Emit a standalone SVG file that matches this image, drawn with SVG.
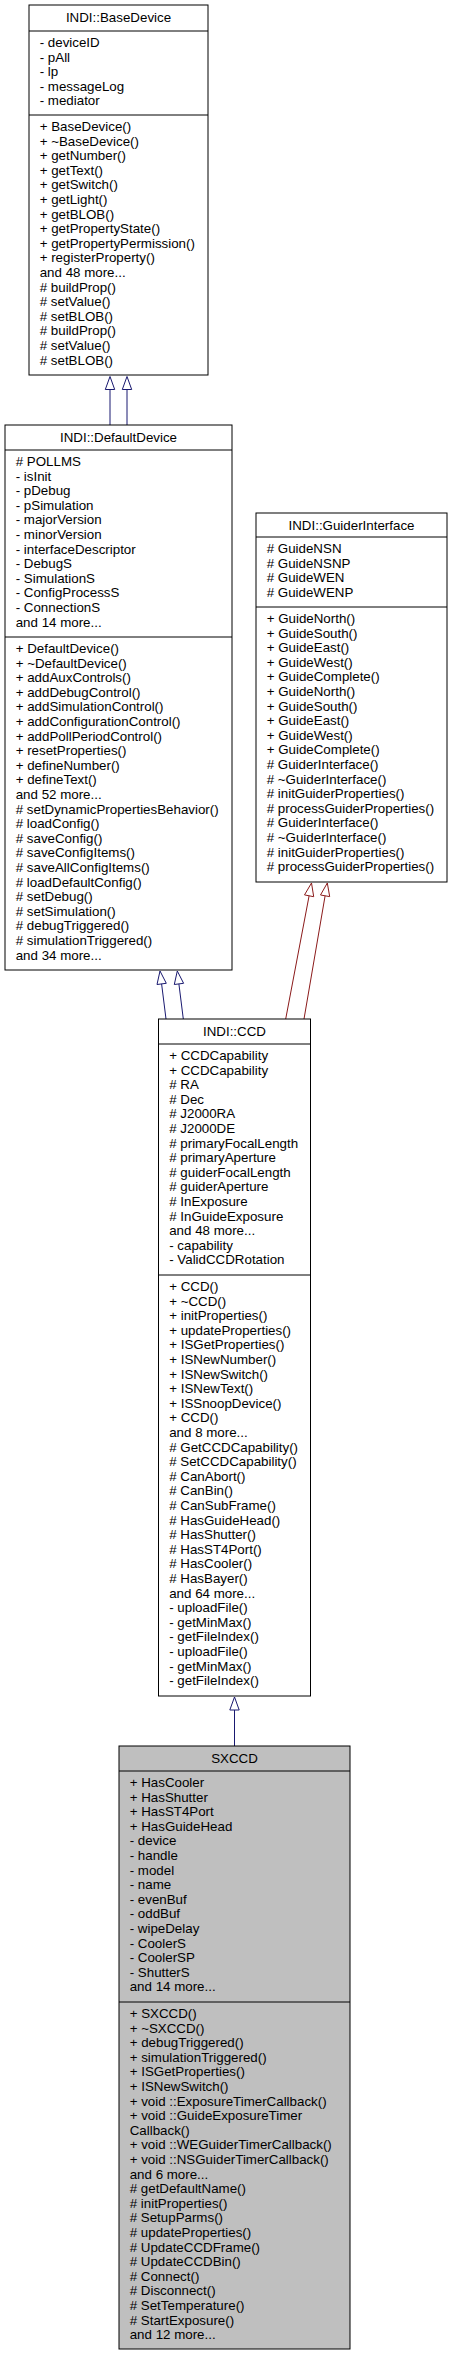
<svg xmlns="http://www.w3.org/2000/svg" width="453" height="2356" viewBox="0 0 453 2356">
<style>
  .box { fill: #ffffff; stroke: #000000; stroke-width: 1; }
  .cur { fill: #bfbfbf; stroke: #000000; stroke-width: 1; }
  .sep { stroke: #000000; stroke-width: 1; }
  text { font-family: "Liberation Sans", Arial, Helvetica, sans-serif; font-size: 13.33px; fill: #000000; }
  .ttl { text-anchor: middle; }
  .pub { stroke: #191970; fill: none; stroke-width: 1; }
  .prv { stroke: #8b1a1a; fill: none; stroke-width: 1; }
</style>
<rect x="0" y="0" width="453" height="2356" fill="#ffffff"/>

<g id="connectors">
  <line class="pub" x1="110" y1="389.5" x2="110" y2="425"/>
  <polygon class="pub" points="110,376.5 105.3,389.5 114.7,389.5"/>
  <line class="pub" x1="127" y1="389.5" x2="127" y2="425"/>
  <polygon class="pub" points="127,376.5 122.3,389.5 131.7,389.5"/>

  <line class="pub" x1="161.6" y1="983.9" x2="166" y2="1019"/>
  <polygon class="pub" points="160,971 166.3,983.3 157,984.5"/>
  <line class="pub" x1="178.9" y1="983.9" x2="183.3" y2="1019"/>
  <polygon class="pub" points="177.3,971 183.6,983.3 174.3,984.5"/>

  <line class="prv" x1="309.1" y1="895.8" x2="285.7" y2="1019"/>
  <polygon class="prv" points="311.5,883 313.7,896.7 304.5,894.9"/>
  <line class="prv" x1="325.1" y1="895.8" x2="304" y2="1019"/>
  <polygon class="prv" points="327.3,883 329.7,896.6 320.5,895"/>

  <line class="pub" x1="234.5" y1="1710" x2="234.5" y2="1746"/>
  <polygon class="pub" points="234.5,1697 229.8,1710 239.2,1710"/>
</g>

<g id="BaseDevice">
  <rect class="box" x="29" y="5" width="179" height="370"/>
  <line class="sep" x1="29" y1="31" x2="208" y2="31"/>
  <line class="sep" x1="29" y1="115" x2="208" y2="115"/>
  <text class="ttl" x="118.5" y="22">INDI::BaseDevice</text>
  <text x="39.7" y="47"><tspan x="39.7">- deviceID</tspan><tspan x="39.7" dy="14.6">- pAll</tspan><tspan x="39.7" dy="14.6">- lp</tspan><tspan x="39.7" dy="14.6">- messageLog</tspan><tspan x="39.7" dy="14.6">- mediator</tspan></text>
  <text x="39.7" y="131"><tspan x="39.7">+ BaseDevice()</tspan><tspan x="39.7" dy="14.6">+ ~BaseDevice()</tspan><tspan x="39.7" dy="14.6">+ getNumber()</tspan><tspan x="39.7" dy="14.6">+ getText()</tspan><tspan x="39.7" dy="14.6">+ getSwitch()</tspan><tspan x="39.7" dy="14.6">+ getLight()</tspan><tspan x="39.7" dy="14.6">+ getBLOB()</tspan><tspan x="39.7" dy="14.6">+ getPropertyState()</tspan><tspan x="39.7" dy="14.6">+ getPropertyPermission()</tspan><tspan x="39.7" dy="14.6">+ registerProperty()</tspan><tspan x="39.7" dy="14.6">and 48 more...</tspan><tspan x="39.7" dy="14.6"># buildProp()</tspan><tspan x="39.7" dy="14.6"># setValue()</tspan><tspan x="39.7" dy="14.6"># setBLOB()</tspan><tspan x="39.7" dy="14.6"># buildProp()</tspan><tspan x="39.7" dy="14.6"># setValue()</tspan><tspan x="39.7" dy="14.6"># setBLOB()</tspan></text>
</g>

<g id="DefaultDevice">
  <rect class="box" x="5" y="425" width="227" height="545"/>
  <line class="sep" x1="5" y1="450" x2="232" y2="450"/>
  <line class="sep" x1="5" y1="637" x2="232" y2="637"/>
  <text class="ttl" x="118.5" y="442">INDI::DefaultDevice</text>
  <text x="15.7" y="466"><tspan x="15.7"># POLLMS</tspan><tspan x="15.7" dy="14.6">- isInit</tspan><tspan x="15.7" dy="14.6">- pDebug</tspan><tspan x="15.7" dy="14.6">- pSimulation</tspan><tspan x="15.7" dy="14.6">- majorVersion</tspan><tspan x="15.7" dy="14.6">- minorVersion</tspan><tspan x="15.7" dy="14.6">- interfaceDescriptor</tspan><tspan x="15.7" dy="14.6">- DebugS</tspan><tspan x="15.7" dy="14.6">- SimulationS</tspan><tspan x="15.7" dy="14.6">- ConfigProcessS</tspan><tspan x="15.7" dy="14.6">- ConnectionS</tspan><tspan x="15.7" dy="14.6">and 14 more...</tspan></text>
  <text x="15.7" y="653"><tspan x="15.7">+ DefaultDevice()</tspan><tspan x="15.7" dy="14.6">+ ~DefaultDevice()</tspan><tspan x="15.7" dy="14.6">+ addAuxControls()</tspan><tspan x="15.7" dy="14.6">+ addDebugControl()</tspan><tspan x="15.7" dy="14.6">+ addSimulationControl()</tspan><tspan x="15.7" dy="14.6">+ addConfigurationControl()</tspan><tspan x="15.7" dy="14.6">+ addPollPeriodControl()</tspan><tspan x="15.7" dy="14.6">+ resetProperties()</tspan><tspan x="15.7" dy="14.6">+ defineNumber()</tspan><tspan x="15.7" dy="14.6">+ defineText()</tspan><tspan x="15.7" dy="14.6">and 52 more...</tspan><tspan x="15.7" dy="14.6"># setDynamicPropertiesBehavior()</tspan><tspan x="15.7" dy="14.6"># loadConfig()</tspan><tspan x="15.7" dy="14.6"># saveConfig()</tspan><tspan x="15.7" dy="14.6"># saveConfigItems()</tspan><tspan x="15.7" dy="14.6"># saveAllConfigItems()</tspan><tspan x="15.7" dy="14.6"># loadDefaultConfig()</tspan><tspan x="15.7" dy="14.6"># setDebug()</tspan><tspan x="15.7" dy="14.6"># setSimulation()</tspan><tspan x="15.7" dy="14.6"># debugTriggered()</tspan><tspan x="15.7" dy="14.6"># simulationTriggered()</tspan><tspan x="15.7" dy="14.6">and 34 more...</tspan></text>
</g>

<g id="GuiderInterface">
  <rect class="box" x="256" y="513" width="191" height="369"/>
  <line class="sep" x1="256" y1="537" x2="447" y2="537"/>
  <line class="sep" x1="256" y1="607" x2="447" y2="607"/>
  <text class="ttl" x="351.5" y="530">INDI::GuiderInterface</text>
  <text x="266.7" y="553"><tspan x="266.7"># GuideNSN</tspan><tspan x="266.7" dy="14.6"># GuideNSNP</tspan><tspan x="266.7" dy="14.6"># GuideWEN</tspan><tspan x="266.7" dy="14.6"># GuideWENP</tspan></text>
  <text x="266.7" y="623"><tspan x="266.7">+ GuideNorth()</tspan><tspan x="266.7" dy="14.6">+ GuideSouth()</tspan><tspan x="266.7" dy="14.6">+ GuideEast()</tspan><tspan x="266.7" dy="14.6">+ GuideWest()</tspan><tspan x="266.7" dy="14.6">+ GuideComplete()</tspan><tspan x="266.7" dy="14.6">+ GuideNorth()</tspan><tspan x="266.7" dy="14.6">+ GuideSouth()</tspan><tspan x="266.7" dy="14.6">+ GuideEast()</tspan><tspan x="266.7" dy="14.6">+ GuideWest()</tspan><tspan x="266.7" dy="14.6">+ GuideComplete()</tspan><tspan x="266.7" dy="14.6"># GuiderInterface()</tspan><tspan x="266.7" dy="14.6"># ~GuiderInterface()</tspan><tspan x="266.7" dy="14.6"># initGuiderProperties()</tspan><tspan x="266.7" dy="14.6"># processGuiderProperties()</tspan><tspan x="266.7" dy="14.6"># GuiderInterface()</tspan><tspan x="266.7" dy="14.6"># ~GuiderInterface()</tspan><tspan x="266.7" dy="14.6"># initGuiderProperties()</tspan><tspan x="266.7" dy="14.6"># processGuiderProperties()</tspan></text>
</g>

<g id="CCD">
  <rect class="box" x="158.5" y="1019" width="152" height="677"/>
  <line class="sep" x1="158.5" y1="1044" x2="310.5" y2="1044"/>
  <line class="sep" x1="158.5" y1="1275" x2="310.5" y2="1275"/>
  <text class="ttl" x="234.5" y="1036">INDI::CCD</text>
  <text x="169.2" y="1060"><tspan x="169.2">+ CCDCapability</tspan><tspan x="169.2" dy="14.6">+ CCDCapability</tspan><tspan x="169.2" dy="14.6"># RA</tspan><tspan x="169.2" dy="14.6"># Dec</tspan><tspan x="169.2" dy="14.6"># J2000RA</tspan><tspan x="169.2" dy="14.6"># J2000DE</tspan><tspan x="169.2" dy="14.6"># primaryFocalLength</tspan><tspan x="169.2" dy="14.6"># primaryAperture</tspan><tspan x="169.2" dy="14.6"># guiderFocalLength</tspan><tspan x="169.2" dy="14.6"># guiderAperture</tspan><tspan x="169.2" dy="14.6"># InExposure</tspan><tspan x="169.2" dy="14.6"># InGuideExposure</tspan><tspan x="169.2" dy="14.6">and 48 more...</tspan><tspan x="169.2" dy="14.6">- capability</tspan><tspan x="169.2" dy="14.6">- ValidCCDRotation</tspan></text>
  <text x="169.2" y="1291"><tspan x="169.2">+ CCD()</tspan><tspan x="169.2" dy="14.6">+ ~CCD()</tspan><tspan x="169.2" dy="14.6">+ initProperties()</tspan><tspan x="169.2" dy="14.6">+ updateProperties()</tspan><tspan x="169.2" dy="14.6">+ ISGetProperties()</tspan><tspan x="169.2" dy="14.6">+ ISNewNumber()</tspan><tspan x="169.2" dy="14.6">+ ISNewSwitch()</tspan><tspan x="169.2" dy="14.6">+ ISNewText()</tspan><tspan x="169.2" dy="14.6">+ ISSnoopDevice()</tspan><tspan x="169.2" dy="14.6">+ CCD()</tspan><tspan x="169.2" dy="14.6">and 8 more...</tspan><tspan x="169.2" dy="14.6"># GetCCDCapability()</tspan><tspan x="169.2" dy="14.6"># SetCCDCapability()</tspan><tspan x="169.2" dy="14.6"># CanAbort()</tspan><tspan x="169.2" dy="14.6"># CanBin()</tspan><tspan x="169.2" dy="14.6"># CanSubFrame()</tspan><tspan x="169.2" dy="14.6"># HasGuideHead()</tspan><tspan x="169.2" dy="14.6"># HasShutter()</tspan><tspan x="169.2" dy="14.6"># HasST4Port()</tspan><tspan x="169.2" dy="14.6"># HasCooler()</tspan><tspan x="169.2" dy="14.6"># HasBayer()</tspan><tspan x="169.2" dy="14.6">and 64 more...</tspan><tspan x="169.2" dy="14.6">- uploadFile()</tspan><tspan x="169.2" dy="14.6">- getMinMax()</tspan><tspan x="169.2" dy="14.6">- getFileIndex()</tspan><tspan x="169.2" dy="14.6">- uploadFile()</tspan><tspan x="169.2" dy="14.6">- getMinMax()</tspan><tspan x="169.2" dy="14.6">- getFileIndex()</tspan></text>
</g>

<g id="SXCCD">
  <rect class="cur" x="119" y="1746" width="231" height="603"/>
  <line class="sep" x1="119" y1="1771" x2="350" y2="1771"/>
  <line class="sep" x1="119" y1="2002" x2="350" y2="2002"/>
  <text class="ttl" x="234.5" y="1763">SXCCD</text>
  <text x="129.7" y="1787"><tspan x="129.7">+ HasCooler</tspan><tspan x="129.7" dy="14.6">+ HasShutter</tspan><tspan x="129.7" dy="14.6">+ HasST4Port</tspan><tspan x="129.7" dy="14.6">+ HasGuideHead</tspan><tspan x="129.7" dy="14.6">- device</tspan><tspan x="129.7" dy="14.6">- handle</tspan><tspan x="129.7" dy="14.6">- model</tspan><tspan x="129.7" dy="14.6">- name</tspan><tspan x="129.7" dy="14.6">- evenBuf</tspan><tspan x="129.7" dy="14.6">- oddBuf</tspan><tspan x="129.7" dy="14.6">- wipeDelay</tspan><tspan x="129.7" dy="14.6">- CoolerS</tspan><tspan x="129.7" dy="14.6">- CoolerSP</tspan><tspan x="129.7" dy="14.6">- ShutterS</tspan><tspan x="129.7" dy="14.6">and 14 more...</tspan></text>
  <text x="129.7" y="2018"><tspan x="129.7">+ SXCCD()</tspan><tspan x="129.7" dy="14.6">+ ~SXCCD()</tspan><tspan x="129.7" dy="14.6">+ debugTriggered()</tspan><tspan x="129.7" dy="14.6">+ simulationTriggered()</tspan><tspan x="129.7" dy="14.6">+ ISGetProperties()</tspan><tspan x="129.7" dy="14.6">+ ISNewSwitch()</tspan><tspan x="129.7" dy="14.6">+ void ::ExposureTimerCallback()</tspan><tspan x="129.7" dy="14.6">+ void ::GuideExposureTimer</tspan><tspan x="129.7" dy="14.6">Callback()</tspan><tspan x="129.7" dy="14.6">+ void ::WEGuiderTimerCallback()</tspan><tspan x="129.7" dy="14.6">+ void ::NSGuiderTimerCallback()</tspan><tspan x="129.7" dy="14.6">and 6 more...</tspan><tspan x="129.7" dy="14.6"># getDefaultName()</tspan><tspan x="129.7" dy="14.6"># initProperties()</tspan><tspan x="129.7" dy="14.6"># SetupParms()</tspan><tspan x="129.7" dy="14.6"># updateProperties()</tspan><tspan x="129.7" dy="14.6"># UpdateCCDFrame()</tspan><tspan x="129.7" dy="14.6"># UpdateCCDBin()</tspan><tspan x="129.7" dy="14.6"># Connect()</tspan><tspan x="129.7" dy="14.6"># Disconnect()</tspan><tspan x="129.7" dy="14.6"># SetTemperature()</tspan><tspan x="129.7" dy="14.6"># StartExposure()</tspan><tspan x="129.7" dy="14.6">and 12 more...</tspan></text>
</g>
</svg>
